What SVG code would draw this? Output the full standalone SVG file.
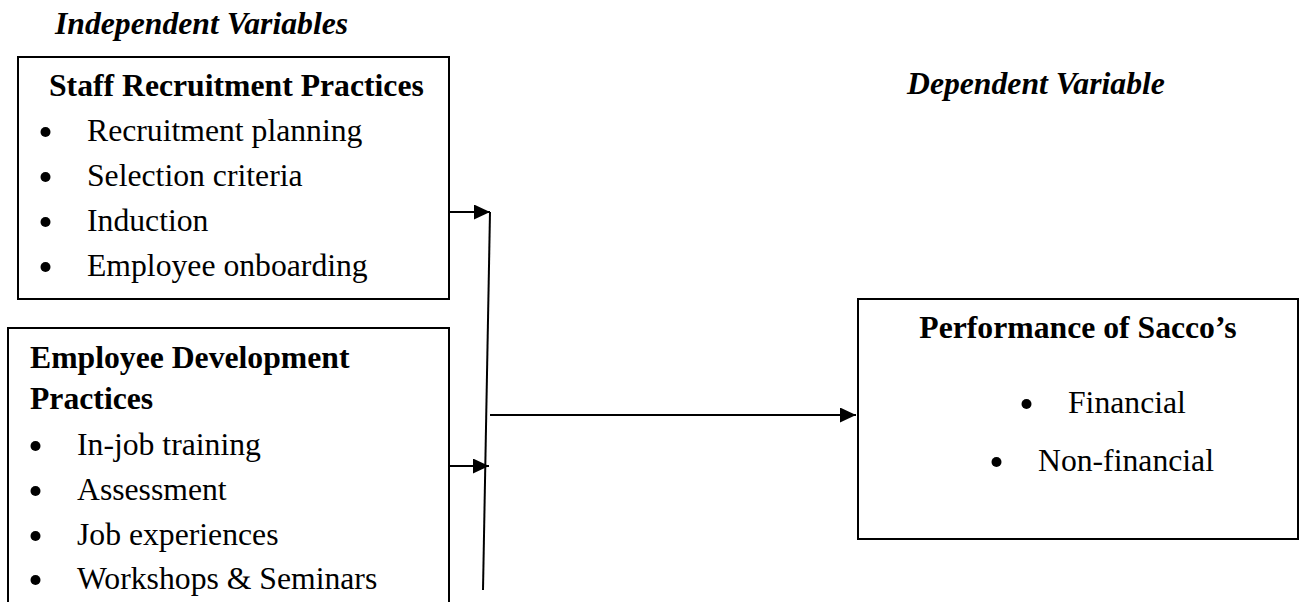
<svg xmlns="http://www.w3.org/2000/svg" width="1304" height="602" viewBox="0 0 1304 602">
<defs>
<marker id="ah" markerUnits="userSpaceOnUse" markerWidth="17" markerHeight="15" refX="16" refY="7.5" orient="auto">
<path d="M0,0 L16,7.5 L0,15 Z" fill="#000"/>
</marker>
<style>
text{font-family:"Liberation Serif","Times New Roman",serif;font-size:31.7px;fill:#000}
.bi{font-weight:bold;font-style:italic}
.b{font-weight:bold}
.box{fill:none;stroke:#000;stroke-width:2}
.con{fill:none;stroke:#000;stroke-width:2}
.dot{fill:#000}
</style>
</defs>
<rect width="1304" height="602" fill="#fff"/>
<text class="bi" x="55" y="34">Independent Variables</text>
<text class="bi" x="907" y="94">Dependent Variable</text>
<g id="node-recruitment">
<rect class="box" x="18" y="57" width="431" height="242"/>
<text class="b" x="49" y="96">Staff Recruitment Practices</text>
<circle class="dot" cx="45.5" cy="132" r="5"/><text x="87" y="141">Recruitment planning</text>
<circle class="dot" cx="45.5" cy="177" r="5"/><text x="87" y="186">Selection criteria</text>
<circle class="dot" cx="45.5" cy="222" r="5"/><text x="87" y="231">Induction</text>
<circle class="dot" cx="45.5" cy="267" r="5"/><text x="87" y="276">Employee onboarding</text>
</g>
<g id="node-development">
<path class="box" d="M8,604 V328 H449 V604"/>
<text class="b" x="30" y="368">Employee Development</text>
<text class="b" x="30" y="409">Practices</text>
<circle class="dot" cx="35.5" cy="446" r="5"/><text x="77" y="455">In-job training</text>
<circle class="dot" cx="35.5" cy="491" r="5"/><text x="77" y="500">Assessment</text>
<circle class="dot" cx="35.5" cy="536" r="5"/><text x="77" y="545">Job experiences</text>
<circle class="dot" cx="35.5" cy="580" r="5"/><text x="77" y="589">Workshops &amp; Seminars</text>
</g>
<g id="node-performance">
<rect class="box" x="858" y="299" width="440" height="240"/>
<text class="b" x="1078" y="338" text-anchor="middle">Performance of Sacco’s</text>
<circle class="dot" cx="1026.5" cy="404" r="5"/><text x="1068" y="413">Financial</text>
<circle class="dot" cx="996.5" cy="462" r="5"/><text x="1038" y="471">Non-financial</text>
</g>
<g id="connectors">
<line class="con" x1="449" y1="212" x2="490" y2="212" marker-end="url(#ah)"/>
<line class="con" x1="449" y1="466" x2="489" y2="466" marker-end="url(#ah)"/>
<line class="con" x1="490" y1="212" x2="483" y2="590"/>
<line class="con" x1="490" y1="415" x2="856" y2="415" marker-end="url(#ah)"/>
</g>
</svg>
